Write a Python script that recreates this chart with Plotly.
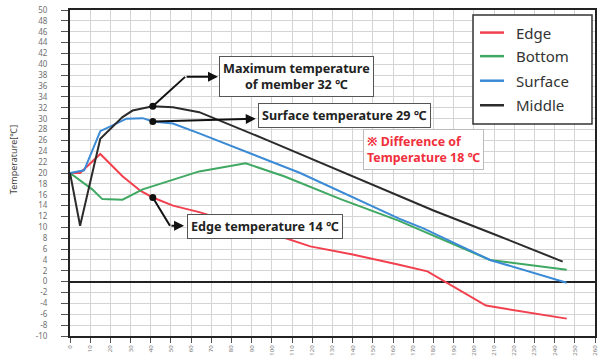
import plotly.graph_objects as go

# Axis ticks
x_ticks = list(range(0, 261, 10))
y_ticks = list(range(-10, 51, 2))

# Temperature readings for each measuring position
edge_x = [0, 5, 15, 26, 35, 41, 51, 64, 80, 102, 119, 140, 163, 177, 206, 246]
edge_y = [20, 20, 23.5, 19.4, 16.7, 15.5, 14.0, 12.8, 11.0, 8.6, 6.5, 5.0, 3.1, 1.9, -4.4, -6.8]

bottom_x = [0, 11, 16, 26, 36, 51, 64, 87, 106, 134, 163, 208, 246]
bottom_y = [20, 17, 15.2, 15.1, 17, 18.8, 20.3, 21.8, 19.4, 15.2, 11.2, 4.0, 2.2]

surface_x = [0, 7, 15, 28, 36, 41, 51, 64, 114, 163, 175, 208, 246]
surface_y = [20, 20.5, 27.7, 30.0, 30.1, 29.5, 29.1, 27.3, 20.0, 11.6, 9.8, 4.0, -0.2]

middle_x = [0, 5, 15, 26, 31, 41, 51, 64, 100, 140, 163, 180, 211, 244]
middle_y = [20, 10.3, 26.3, 30.3, 31.5, 32.3, 32.1, 31.2, 25.7, 19.4, 15.8, 13.1, 8.6, 3.7]

series = [
    ("Edge", edge_x, edge_y, "#f2404e"),
    ("Bottom", bottom_x, bottom_y, "#3fa862"),
    ("Surface", surface_x, surface_y, "#3a8ad6"),
    ("Middle", middle_x, middle_y, "#2b2b2b"),
]

W, H = 605, 364
ML, MR, MT, MB = 70, 10, 4, 28
PW, PH = W - ML - MR, H - MT - MB


def px(xp):
    """Horizontal pixel position -> paper fraction."""
    return (xp - ML) / PW


def py(yp):
    """Vertical pixel position -> paper fraction."""
    return 1 - (yp - MT) / PH


fig = go.Figure()
for name, xs, ys, color in series:
    fig.add_trace(go.Scatter(
        x=xs, y=ys, mode="lines", name=name, showlegend=False,
        line=dict(color=color, width=2),
    ))

# Points picked out by the callouts
mid_i = middle_y.index(max(middle_y))
sur_i = surface_x.index(41)
edg_i = edge_x.index(41)
callout_pts = [
    (middle_x[mid_i], middle_y[mid_i]),
    (surface_x[sur_i], surface_y[sur_i]),
    (edge_x[edg_i], edge_y[edg_i]),
]
fig.add_trace(go.Scatter(
    x=[p[0] for p in callout_pts], y=[p[1] for p in callout_pts],
    mode="markers", marker=dict(color="#111", size=7), showlegend=False,
    hoverinfo="skip",
))

box_font = dict(family="Noto Sans", size=12.6, color="#222")
annotations = []
shapes = []

# Maximum temperature callout (elbow connector)
mx, my = callout_pts[0]
shapes.append(dict(type="path", xref="x", yref="y",
                   path=f"M {mx},{my} L 57,37.7",
                   line=dict(color="#111", width=2)))
annotations.append(dict(x=73.3, y=37.7, ax=57, ay=37.7, axref="x", ayref="y",
                        xref="x", yref="y", text="", showarrow=True,
                        arrowhead=2, arrowsize=1, arrowwidth=2, arrowcolor="#111"))
annotations.append(dict(x=74, y=37.7, xref="x", yref="y", xanchor="left",
                        yanchor="middle", showarrow=False,
                        text="<b>Maximum temperature<br>of member 32 ℃</b>",
                        font=box_font, bgcolor="white", bordercolor="#555",
                        borderwidth=1, borderpad=3))

# Surface temperature callout
sx, sy = callout_pts[1]
annotations.append(dict(x=92, y=30.0, ax=sx, ay=sy, axref="x", ayref="y",
                        xref="x", yref="y", text="", showarrow=True,
                        arrowhead=2, arrowsize=1, arrowwidth=2, arrowcolor="#111"))
annotations.append(dict(x=93, y=30.6, xref="x", yref="y", xanchor="left",
                        yanchor="middle", showarrow=False,
                        text="<b>Surface temperature 29 ℃</b>",
                        font=box_font, bgcolor="white", bordercolor="#555",
                        borderwidth=1, borderpad=3))

# Edge temperature callout (elbow connector)
ex, ey = callout_pts[2]
shapes.append(dict(type="path", xref="x", yref="y",
                   path=f"M {ex},{ey} L 49.5,10.3",
                   line=dict(color="#111", width=2)))
annotations.append(dict(x=56.5, y=10.3, ax=49.5, ay=10.3, axref="x", ayref="y",
                        xref="x", yref="y", text="", showarrow=True,
                        arrowhead=2, arrowsize=1, arrowwidth=2, arrowcolor="#111"))
annotations.append(dict(x=58, y=10.2, xref="x", yref="y", xanchor="left",
                        yanchor="middle", showarrow=False,
                        text="<b>Edge temperature 14 ℃</b>",
                        font=box_font, bgcolor="white", bordercolor="#555",
                        borderwidth=1, borderpad=3))

# Temperature difference note
annotations.append(dict(x=145, y=24.3, xref="x", yref="y", xanchor="left",
                        yanchor="middle", showarrow=False, align="left",
                        text="<b>※ Difference of<br>Temperature 18 ℃</b>",
                        font=dict(family="Noto Sans", size=12.4, color="#f0303c"),
                        bgcolor="white", bordercolor="#bbbbbb",
                        borderwidth=1, borderpad=3))

# Y axis title
annotations.append(dict(x=px(13), y=py(157), xref="paper", yref="paper",
                        xanchor="center", yanchor="middle", showarrow=False,
                        text="Temperature[℃]", textangle=-90,
                        font=dict(family="Noto Sans", size=9, color="#444")))

# Legend panel: frame, line samples and series names
shapes.append(dict(type="rect", xref="paper", yref="paper",
                   x0=px(473), x1=px(592), y0=py(120), y1=py(9),
                   fillcolor="white", line=dict(color="#333", width=1.5),
                   layer="above"))
legend_rows = [27, 51, 76, 101]
for (name, _, _, color), row in zip(series, legend_rows):
    shapes.append(dict(type="line", xref="paper", yref="paper",
                       x0=px(480), x1=px(504), y0=py(row), y1=py(row),
                       line=dict(color=color, width=2.5), layer="above"))
    annotations.append(dict(x=px(514), y=py(row), xref="paper", yref="paper",
                            xanchor="left", yanchor="middle", showarrow=False,
                            text=name,
                            font=dict(family="Noto Sans", size=15, color="#333")))

fig.update_layout(
    width=W, height=H,
    margin=dict(l=ML, r=MR, t=MT, b=MB),
    paper_bgcolor="white", plot_bgcolor="white",
    font=dict(family="Noto Sans"),
    showlegend=False,
    shapes=shapes,
    annotations=annotations,
)

fig.update_xaxes(
    range=[0, 260], tickvals=x_ticks, ticktext=[str(v) for v in x_ticks],
    tickangle=-90, tickfont=dict(size=6, color="#777"),
    ticks="outside", ticklen=5, tickcolor="#555",
    showgrid=True, gridcolor="#d4d4d4", gridwidth=1,
    showline=True, linecolor="#222", linewidth=2, mirror=True,
    zeroline=False,
)
fig.update_yaxes(
    range=[-10, 50.01], tickvals=y_ticks, ticktext=[str(v) for v in y_ticks],
    tickfont=dict(size=8, color="#6f6f6f"), ticklabeloverflow="allow",
    ticks="outside", ticklen=7, tickcolor="#555", ticklabelstandoff=12,
    showgrid=True, gridcolor="#d4d4d4", gridwidth=1,
    showline=True, linecolor="#222", linewidth=2, mirror=True,
    zeroline=True, zerolinecolor="#222", zerolinewidth=2,
)

fig.write_html("out.html")
